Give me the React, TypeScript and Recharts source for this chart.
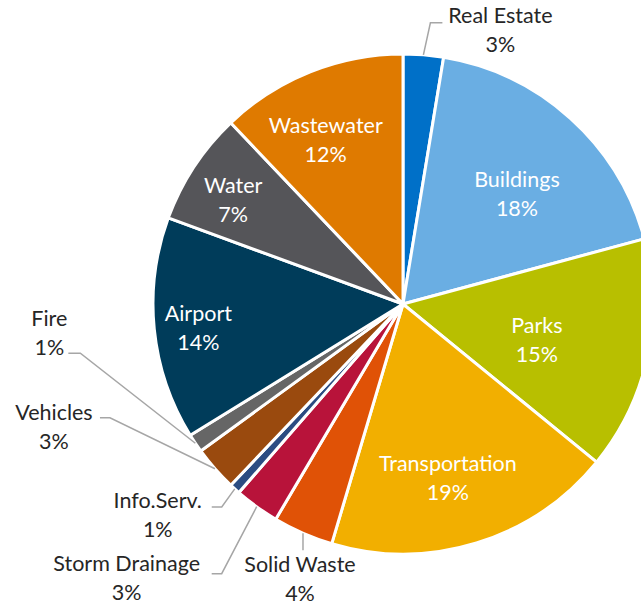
import React from "react";
import { PieChart, Pie, Cell } from "recharts";

// budget share by program area, clockwise from 12 o'clock
const categories = [
  "Real Estate",
  "Buildings",
  "Parks",
  "Transportation",
  "Solid Waste",
  "Storm Drainage",
  "Info.Serv.",
  "Vehicles",
  "Fire",
  "Airport",
  "Water",
  "Wastewater",
];

const shares = [2.6, 18.2, 15.1, 18.7, 3.9, 2.9, 0.7, 2.9, 1.2, 14.4, 7.3, 12.1];

const sliceColors = [
  "#0070c8",
  "#6aaee3",
  "#b8bf00",
  "#f2af00",
  "#e05206",
  "#b8133a",
  "#2b4c82",
  "#9a4a0e",
  "#666666",
  "#003c5a",
  "#555559",
  "#df7a00",
];

const data = categories.map((name, i) => ({ name, value: shares[i] }));

// labels drawn inside the slice: nudge from the default anchor point
const insideNudge: Record<string, [number, number]> = {
  Buildings: [5, 10],
  Parks: [-25, 2],
  Transportation: [-3, 18],
  Airport: [-43, 7],
  Water: [-34, -15],
  Wastewater: [-17, -14],
};

// labels drawn outside with a leader line (offsets from the arc point)
type Callout = { elbow: [number, number]; end?: [number, number]; text: [number, number] };
const callouts: Record<string, Callout> = {
  "Real Estate": { elbow: [7, -32], end: [19, -32], text: [77, -25] },
  Fire: { elbow: [-115, -90], end: [-127, -90], text: [-146, -111] },
  Vehicles: { elbow: [-105, -51], end: [-115, -51], text: [-161, -42] },
  "Info.Serv.": { elbow: [-13, 18], end: [-23, 18], text: [-77, 26] },
  "Storm Drainage": { elbow: [-35, 67], end: [-45, 67], text: [-130, 71] },
  "Solid Waste": { elbow: [0, 17], text: [-3, 45] },
};

const RAD = Math.PI / 180;
const FONT = "Lato, 'Open Sans', sans-serif";
const FONT_SIZE = 21.5;
const LINE_GAP = 29;

if (typeof document !== "undefined") document.body.style.margin = "0";

function polar(cx: number, cy: number, r: number, angle: number) {
  return [cx + r * Math.cos(-angle * RAD), cy + r * Math.sin(-angle * RAD)];
}

function TwoLine({ x, y, name, pct, fill }: any) {
  return (
    <text
      x={x}
      y={y}
      textAnchor="middle"
      fill={fill}
      fontFamily={FONT}
      fontSize={FONT_SIZE}
    >
      <tspan x={x} y={y - LINE_GAP / 2} dominantBaseline="central">
        {name}
      </tspan>
      <tspan x={x} y={y + LINE_GAP / 2} dominantBaseline="central">
        {pct}
      </tspan>
    </text>
  );
}

function renderLabel(props: any) {
  const { cx, cy, midAngle, outerRadius, percent, name } = props;
  const pct = `${Math.round(percent * 100)}%`;
  const callout = callouts[name];
  if (callout) {
    const [ax, ay] = polar(cx, cy, outerRadius, midAngle);
    const pts = [[ax, ay], [ax + callout.elbow[0], ay + callout.elbow[1]]];
    if (callout.end) pts.push([ax + callout.end[0], ay + callout.end[1]]);
    return (
      <g key={`lbl-${name}`}>
        <polyline
          points={pts.map((p) => p.join(",")).join(" ")}
          fill="none"
          stroke="#a6a6a6"
          strokeWidth={1.5}
        />
        <TwoLine
          x={ax + callout.text[0]}
          y={ay + callout.text[1]}
          name={name}
          pct={pct}
          fill="#262626"
        />
      </g>
    );
  }
  const [bx, by] = polar(cx, cy, outerRadius * 0.65, midAngle);
  const nudge = insideNudge[name] || [0, 0];
  return (
    <TwoLine
      key={`lbl-${name}`}
      x={bx + nudge[0]}
      y={by + nudge[1]}
      name={name}
      pct={pct}
      fill="#ffffff"
    />
  );
}

export default function App() {
  return (
    <div style={{ width: 641, height: 606, background: "#fff" }}>
      <PieChart width={641} height={606} margin={{ top: 0, right: 0, bottom: 0, left: 0 }}>
        <Pie
          data={data}
          dataKey="value"
          nameKey="name"
          cx={403}
          cy={304}
          outerRadius={250}
          startAngle={90}
          endAngle={-270}
          stroke="#ffffff"
          strokeWidth={3}
          label={renderLabel}
          labelLine={false}
          isAnimationActive={false}
        >
          {data.map((d, i) => (
            <Cell key={d.name} fill={sliceColors[i]} />
          ))}
        </Pie>
      </PieChart>
    </div>
  );
}
